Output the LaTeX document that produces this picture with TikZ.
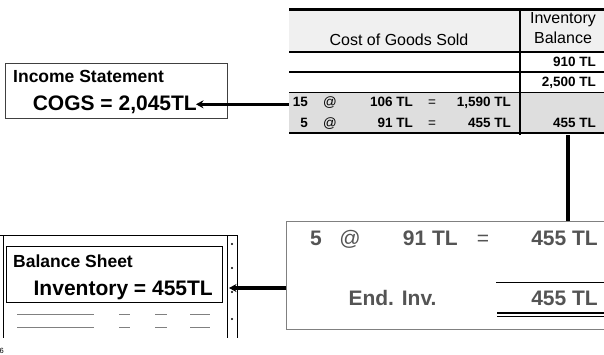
\documentclass[tikz,border=0pt]{standalone}
\usepackage{fontspec}
\setmainfont{Liberation Sans}
\usetikzlibrary{arrows.meta,positioning}

\definecolor{cellgray}{gray}{0.87}
\definecolor{headgray}{gray}{0.94}
\definecolor{inkgray}{gray}{0.33}

\begin{document}
\begin{tikzpicture}[x=1pt,y=-1pt,>={Stealth[length=7.5pt,width=8pt]}]
  \tikzset{
    txt/.style={inner sep=0pt, anchor=base},
    hd/.style={txt, font=\fontsize{16}{18}\selectfont},
    cell/.style={txt, anchor=base east, font=\fontsize{13.5}{15}\selectfont\bfseries},
    cellop/.style={txt, font=\fontsize{13.5}{15}\selectfont},
    big/.style={txt, font=\fontsize{21}{24}\selectfont\bfseries},
    bigop/.style={txt, font=\fontsize{21}{24}\selectfont},
    title/.style={txt, anchor=base west, font=\fontsize{17.5}{20}\selectfont\bfseries},
    frame/.style={draw, line width=1pt, inner sep=0pt, anchor=north west},
    link/.style={line width=3.2pt},
    rule/.style={line width=2pt},
  }
  \clip (0,0) rectangle (604,354);

  % cost of goods sold table
  \fill[headgray] (289,9) rectangle (610,52);
  \fill[cellgray] (289,92) rectangle (610,133);
  \draw[line width=3pt] (289,9) -- (610,9);
  \draw[rule] (289,52) -- (610,52);
  \draw[rule] (289,72) -- (610,72);
  \draw[line width=1pt] (289,92) -- (610,92);
  \draw[rule] (289,133) -- (610,133);
  \draw[rule] (520,8) -- (520,135);

  \node[hd] (cogshd) at (399,45) {Cost of Goods Sold};
  \node[hd] (invhd) at (563,23.5) {Inventory};
  \node[hd] (balhd) at (563,43.5) {Balance};

  \node[cell] (bal1) at (596,66) {910 TL};
  \node[cell] (bal2) at (596,86) {2,500 TL};

  \node[cell] (qa) at (308,106.5) {15};
  \node[cellop] (ata) at (330,106.5) {@};
  \node[cell] (pa) at (413,106.5) {106 TL};
  \node[cellop] (eqa) at (432,106.5) {=};
  \node[cell] (ca) at (511,106.5) {1,590 TL};

  \node[cell] (qb) at (308,127) {5};
  \node[cellop] (atb) at (330,127) {@};
  \node[cell] (pb) at (413,127) {91 TL};
  \node[cellop] (eqb) at (432,127) {=};
  \node[cell] (cb) at (511,127) {455 TL};
  \node[cell] (bal3) at (596,127) {455 TL};

  \coordinate (tabL) at (289,102);
  \coordinate (invcol) at (568,135);

  % income statement
  \node[frame, draw=black!75, minimum width=222pt, minimum height=55pt] (incbox) at (5,63) {};
  \node[title] (inctitle) at (13,82) {Income Statement};
  \node[big, anchor=base east] (cogs) at (197,110) {COGS = 2,045TL};

  % ending inventory box
  \node[frame, draw=gray, minimum width=330pt, minimum height=108pt] (lowbox) at (286,221) {};
  \begin{scope}[inkgray]
    \node[big, anchor=base east] (eq5) at (322,245) {5};
    \node[bigop] (eqat) at (350,245) {@};
    \node[big, anchor=base east] (eq91) at (458,245) {91 TL};
    \node[bigop] (eqeq) at (483,245) {=};
    \node[big, anchor=base east] (eq455) at (598,245) {455 TL};
    \node[big] (endinv) at (392.5,305) {End. Inv.};
    \node[big, anchor=base east] (endval) at (598,305) {455 TL};
  \end{scope}
  \draw[line width=1.5pt] (496,282.5) -- (610,282.5);
  \draw[line width=2pt] (497,312.5) -- (610,312.5);
  \draw[line width=1pt] (497,316) -- (610,316);

  % balance sheet page
  \draw[line width=0.8pt] (0,235) -- (237,235);
  \draw[line width=0.8pt] (3,235) -- (3,338);
  \draw[line width=0.8pt] (227,235) -- (227,338);
  \draw[line width=0.8pt] (237,235) -- (237,338);
  \foreach \y in {244,268,292,319}
    \fill (232,\y) circle (1.2pt);
  \foreach \a/\b in {17/94,119/130,155/167,190/210} {
    \draw[gray, line width=0.8pt] (\a,314) -- (\b,314);
    \draw[gray, line width=0.8pt] (\a,327) -- (\b,327);
  }
  \node[frame, minimum width=216pt, minimum height=56pt] (bsbox) at (6,246) {};
  \node[title] (bstitle) at (13,267) {Balance Sheet};
  \node[big, anchor=base east] (invtxt) at (213,295.5) {Inventory = 455TL};
  \coordinate (bstip) at (229,288);
  \coordinate (lowL) at (286,288);

  % connectors
  \draw[link,<-] (cogs.east -| 196,0) -- (cogs.east -| tabL);
  \draw[link] (invcol) -- (invcol |- lowbox.north);
  \draw[link,->] (lowL) -- (bstip);

  \node[inner sep=0pt, anchor=base west, font=\fontsize{7.5}{8}\selectfont] (pagenum) at (-0.5,353) {6};
\end{tikzpicture}
\end{document}
